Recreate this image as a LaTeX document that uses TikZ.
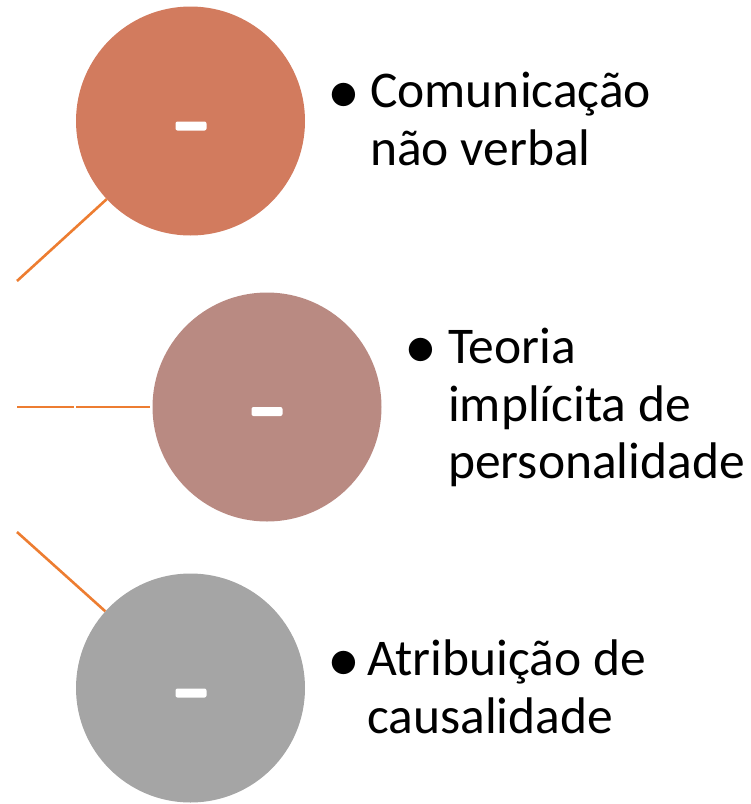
\documentclass[tikz,border=0pt]{standalone}
\usepackage{fontspec}
\setmainfont{Carlito}
\usepackage{tikz}

\definecolor{commfill}{HTML}{D27B5E}
\definecolor{teorfill}{HTML}{B98A82}
\definecolor{atrifill}{HTML}{A5A5A5}
\definecolor{linkline}{HTML}{ED7D31}

\begin{document}
\begin{tikzpicture}[x=1pt, y=-1pt,
  ball/.style={circle, minimum size=229pt, inner sep=0pt},
  minus/.style={fill=white, rounded corners=2pt, minimum width=31pt, minimum height=9pt, inner sep=0pt},
  link/.style={linkline, line width=2.6pt},
  item/.style={anchor=base west, align=left, inner sep=0pt, font=\fontsize{51.5}{57.5}\selectfont},
  dot/.style={anchor=base west, inner sep=0pt, font=\fontsize{66}{66}\selectfont}]

\useasboundingbox (0,0) rectangle (751,804);

% circles
\node[ball, fill=commfill] (comm) at (190.5,121) {};
\node[ball, fill=teorfill] (teor) at (267,407) {};
\node[ball, fill=atrifill] (atri) at (190.5,688) {};

\node[minus] (commminus) at (191,126) {};
\node[minus] (teorminus) at (267,411.5) {};
\node[minus] (atriminus) at (191,693) {};

% links on the left
\coordinate (commend) at (17,281);
\coordinate (teorend) at (17,407);
\coordinate (gapleft) at (73.5,407);
\coordinate (gapright) at (76,407);
\coordinate (atriend) at (17,532);

\draw [link] (commend) -- (comm.223);
\draw [link] (teorend) -- (gapleft);
\draw [link, shorten >=2pt] (gapright) -- (teor.west);
\draw [link] (atriend) -- (atri.138);

% texts (base = last line)
\node[dot] (commdot) at (327,113) {•};
\node[item] (commtext) at (370,165) {Comunicação\\não verbal};

\node[dot] (teordot) at (404,368.5) {•};
\node[item] (teortext) at (448,478.5) {Teoria\\implícita de\\personalidade};

\node[dot] (atridot) at (327,681) {•};
\node[item] (atritext) at (367,733) {Atribuição de\\causalidade};

\end{tikzpicture}
\end{document}
